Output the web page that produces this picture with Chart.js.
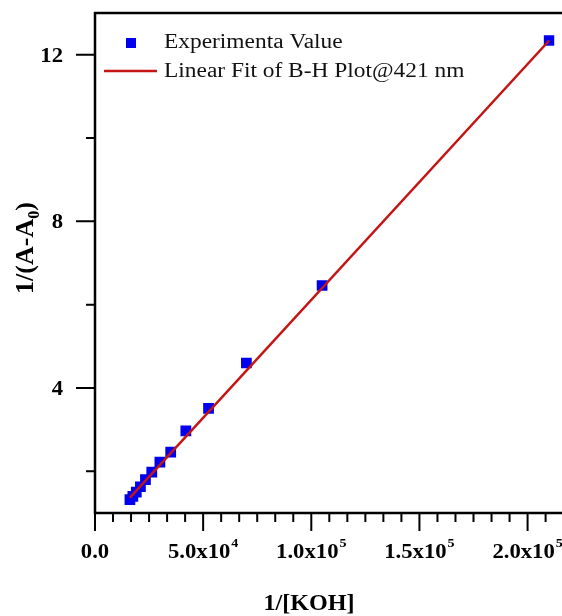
<!DOCTYPE html>
<html>
<head>
<meta charset="utf-8">
<script src="https://cdn.jsdelivr.net/npm/chart.js@4.4.0/dist/chart.umd.min.js"></script>
<style>
  html, body { margin: 0; padding: 0; background: #fff; overflow: hidden; }
  #wrap { width: 562px; height: 616px; }
</style>
</head>
<body>
<div id="wrap"><canvas id="bh-chart" width="562" height="616"></canvas></div>
<script>
// values
const kohInv = [210000, 105000, 70000, 52500, 42000, 35000, 30000, 26250, 23333, 21000, 19091, 17500, 16154];
const absInv = [12.34, 6.46, 4.6, 3.51, 2.97, 2.46, 2.22, 1.98, 1.8, 1.63, 1.5, 1.4, 1.32];
const fitX = [16154, 210000];
const fitY = [1.37, 12.34];

// axis ticks
const xMajor = [0, 50000, 100000, 150000, 200000];
const xTickText = ["0.0", "5.0x10", "1.0x10", "1.5x10", "2.0x10"];
const xTickExp = ["", "4", "5", "5", "5"];
const xMinorStep = 50000 / 6;
const yMajor = [4, 8, 12];
const yMinor = [2, 6, 10];

const serif = "'Liberation Serif', 'Times New Roman', serif";

// text is a bit wider than the font, like the picture
const drawText = (ctx, str, x, y, stretch) => {
  ctx.save();
  ctx.translate(x, y);
  ctx.scale(stretch, 1);
  ctx.fillText(str, 0, 0);
  ctx.restore();
};

const originFrame = {
  id: "originFrame",
  afterDraw(chart) {
    const { ctx, chartArea: area } = chart;
    const xs = chart.scales.x;
    const ys = chart.scales.y;
    const edge = chart.width;
    ctx.save();

    // frame: left, bottom and top lines
    ctx.strokeStyle = "#000";
    ctx.lineWidth = 2.5;
    ctx.beginPath();
    ctx.moveTo(edge, area.top);
    ctx.lineTo(area.left, area.top);
    ctx.lineTo(area.left, area.bottom);
    ctx.lineTo(edge, area.bottom);
    ctx.stroke();

    // ticks
    ctx.lineWidth = 2;
    ctx.beginPath();
    for (let i = 0; xs.getPixelForValue(i * xMinorStep) <= edge; i++) {
      const px = xs.getPixelForValue(i * xMinorStep);
      const len = i % 6 === 0 ? 18 : 9;
      ctx.moveTo(px, area.bottom);
      ctx.lineTo(px, area.bottom + len);
    }
    yMajor.forEach((v) => {
      const py = ys.getPixelForValue(v);
      ctx.moveTo(area.left, py);
      ctx.lineTo(area.left - 19, py);
    });
    yMinor.forEach((v) => {
      const py = ys.getPixelForValue(v);
      ctx.moveTo(area.left, py);
      ctx.lineTo(area.left - 9, py);
    });
    ctx.stroke();

    // x tick labels with exponent
    ctx.fillStyle = "#000";
    ctx.textBaseline = "alphabetic";
    ctx.textAlign = "left";
    const tickStretch = 1.08;
    xMajor.forEach((v, i) => {
      ctx.font = `bold 21px ${serif}`;
      const wBase = ctx.measureText(xTickText[i]).width * tickStretch;
      ctx.font = `bold 13px ${serif}`;
      const wExp = xTickExp[i] ? ctx.measureText(xTickExp[i]).width * tickStretch + 1 : 0;
      const left = xs.getPixelForValue(v) - (wBase + wExp) / 2;
      ctx.font = `bold 21px ${serif}`;
      drawText(ctx, xTickText[i], left, 558, tickStretch);
      if (xTickExp[i]) {
        ctx.font = `bold 13px ${serif}`;
        drawText(ctx, xTickExp[i], left + wBase + 1, 547, tickStretch);
      }
    });

    // y tick labels
    ctx.font = `bold 21px ${serif}`;
    yMajor.forEach((v) => {
      const str = String(v);
      const w = ctx.measureText(str).width * tickStretch;
      drawText(ctx, str, 63 - w, ys.getPixelForValue(v) + 7, tickStretch);
    });

    // x title
    ctx.font = `bold 23px ${serif}`;
    const xTitle = "1/[KOH]";
    const xtW = ctx.measureText(xTitle).width * 1.05;
    drawText(ctx, xTitle, 309 - xtW / 2, 610, 1.05);

    // y title 1/(A-A0), rotated
    ctx.save();
    ctx.translate(33, 248);
    ctx.rotate(-Math.PI / 2);
    ctx.font = `bold 26px ${serif}`;
    const wA = ctx.measureText("1/(A-A").width;
    const wTail = ctx.measureText(")").width;
    ctx.font = `bold 16px ${serif}`;
    const wSub = ctx.measureText("0").width;
    const start = -(wA + wSub + wTail) / 2;
    ctx.font = `bold 26px ${serif}`;
    ctx.fillText("1/(A-A", start, 0);
    ctx.fillText(")", start + wA + wSub, 0);
    ctx.font = `bold 16px ${serif}`;
    ctx.fillText("0", start + wA, 6);
    ctx.restore();

    // legend
    const [pts, fit] = chart.data.datasets;
    ctx.fillStyle = pts.backgroundColor;
    ctx.fillRect(126, 38, 10, 10);
    ctx.strokeStyle = fit.borderColor;
    ctx.lineWidth = fit.borderWidth;
    ctx.beginPath();
    ctx.moveTo(104, 71);
    ctx.lineTo(157, 71);
    ctx.stroke();
    ctx.fillStyle = "#111";
    ctx.font = `20px ${serif}`;
    drawText(ctx, pts.label, 164, 48, 1.17);
    drawText(ctx, fit.label, 164, 77, 1.17);

    ctx.restore();
  },
};

const chartCanvas = document.getElementById("bh-chart");
new Chart(chartCanvas, {
  type: "scatter",
  data: {
    datasets: [
      {
        label: "Experimenta Value",
        data: kohInv.map((v, i) => ({ x: v, y: absInv[i] })),
        pointStyle: "rect",
        pointRadius: 7.6,
        pointHoverRadius: 7.6,
        backgroundColor: "#0000ee",
        borderColor: "#0000ee",
        borderWidth: 0,
        showLine: false,
        order: 1,
      },
      {
        label: "Linear Fit of B-H Plot@421 nm",
        data: fitX.map((v, i) => ({ x: v, y: fitY[i] })),
        showLine: true,
        borderColor: "#c41414",
        borderWidth: 2.5,
        pointRadius: 0,
        order: 0,
      },
    ],
  },
  options: {
    responsive: false,
    animation: false,
    devicePixelRatio: 1,
    layout: { padding: { left: 95, top: 13, right: 0, bottom: 103 } },
    scales: {
      x: { type: "linear", min: 0, max: 212400, display: false },
      y: { type: "linear", min: 1, max: 13, display: false },
    },
    plugins: {
      legend: { display: false },
      tooltip: { enabled: false },
    },
  },
  plugins: [originFrame],
});
</script>
</body>
</html>
